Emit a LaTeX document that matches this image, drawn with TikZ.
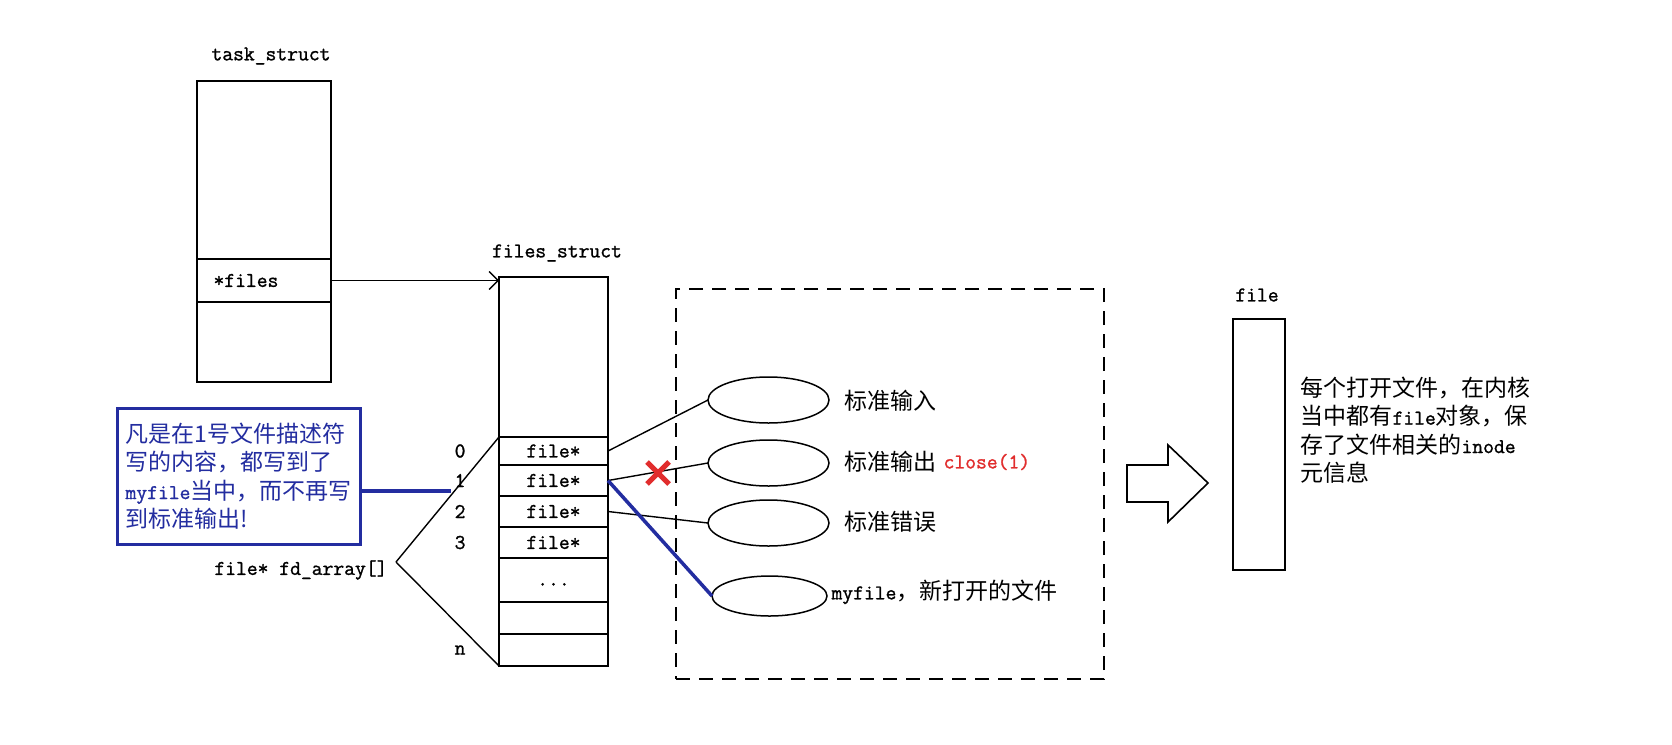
\documentclass[tikz,border=0pt]{standalone}
\usepackage{fontspec}
\setmonofont{lmmono12-regular.otf}[FakeBold=1.2]
\newfontfamily\cjk{Noto Sans CJK SC}
\usepackage{tikz}
\usetikzlibrary{positioning,shapes.geometric,arrows.meta}

\definecolor{noteblue}{RGB}{35,45,160}
\definecolor{closered}{RGB}{225,45,45}

\newcommand\monotxt[1]{{\fontsize{21}{25}\selectfont\ttfamily #1}}

\tikzset{
	mono/.style={font=\fontsize{21}{25}\selectfont\ttfamily},
	hanzi/.style={font=\cjk\fontsize{23}{28.5}\selectfont},
	cell/.style={draw, line width=1.7pt, inner sep=0pt, outer sep=0pt, minimum width=109pt, mono},
	tcell/.style={draw, line width=1.7pt, inner sep=0pt, outer sep=0pt, minimum width=134pt},
	fdobj/.style={draw, ellipse, line width=1.5pt, inner sep=0pt, outer sep=0pt},
	link/.style={line width=1.4pt},
	noteline/.style={noteblue, line width=3.5pt},
}

\begin{document}
\begin{tikzpicture}[x=1pt,y=-1pt]
	\useasboundingbox[fill=white] (0,0) rectangle (1672,744);
	
	% task_struct
	\node[mono] (tname) at (271,56) {task\_struct};
	\node[tcell, minimum height=178pt] (ttop) at (264,170) {};
	\node[tcell, minimum height=43pt, below=0pt of ttop] (tfiles) {};
	\node[tcell, minimum height=80pt, below=0pt of tfiles] (tbot) {};
	\node[mono, anchor=west] (tfilestxt) at ([xshift=13pt]tfiles.west) {*files};
	
	% files_struct
	\node[mono] (fname) at (557,253) {files\_struct};
	\node[cell, minimum height=160pt] (ftop) at (553.5,357) {};
	\node[cell, minimum height=28pt, below=0pt of ftop] (r0) {file*};
	\node[cell, minimum height=31pt, below=0pt of r0] (r1) {file*};
	\node[cell, minimum height=31pt, below=0pt of r1] (r2) {file*};
	\node[cell, minimum height=31pt, below=0pt of r2] (r3) {file*};
	\node[cell, minimum height=44pt, below=0pt of r3] (r4) {\raisebox{-11pt}{...}};
	\node[cell, minimum height=32pt, below=0pt of r4] (r5) {};
	\node[cell, minimum height=32pt, below=0pt of r5] (r6) {};
	
	\foreach \r/\n in {r0/0, r1/1, r2/2, r3/3, r6/n}
	\node[mono, left=30pt of \r.west] (idx\n) {\n};
	
	\draw[link, -{Straight Barb[length=9pt,width=18pt]}] (tfiles.east) -- (tfiles.east -| ftop.west);
	
	% fd_array
	\node[mono, anchor=east] (fdarr) at (391,570) {file* fd\_array[]};
	\coordinate (apex) at (396,562);
	\draw[link] (apex) -- (r0.north west);
	\draw[link] (apex) -- (r6.south west);
	
	% note
	\node[draw=noteblue, line width=3pt, text=noteblue, hanzi, align=left, inner sep=0pt, outer sep=0pt,
	minimum width=243pt, minimum height=136pt] (note) at (238.5,476)
	{凡是在1号文件描述符\\写的内容，都写到了\\\monotxt{myfile}当中，而不再写\\到标准输出!};
	\draw[noteline] ([yshift=-15pt]note.east) -- ([yshift=-15pt]note.east -| idx1.west);
	
	% opened files
	\node[draw, dash pattern=on 14pt off 9pt, line width=1.6pt, outer sep=0pt,
	minimum width=428pt, minimum height=390pt] (grp) at (890,484) {};
	
	\node[fdobj, minimum width=121pt, minimum height=46pt] (e0) at (768.5,400) {};
	\node[fdobj, minimum width=121pt, minimum height=46pt] (e1) at (768.5,463) {};
	\node[fdobj, minimum width=121pt, minimum height=46pt] (e2) at (768.5,523) {};
	\node[fdobj, minimum width=115pt, minimum height=40pt] (e3) at (769.5,596) {};
	
	\node[hanzi, anchor=west] (l0) at (841,401) {标准输入};
	\node[hanzi, anchor=west] (l1) at (841,462) {标准输出};
	\node[mono, text=closered, right=0pt of l1] (cls) {close(1)};
	\node[hanzi, anchor=west] (l2) at (841,522) {标准错误};
	\node[hanzi, anchor=west] (l3) at (828,592) {\monotxt{myfile}，新打开的文件};
	
	\draw[link] (r0.east) -- (e0.west);
	\draw[link] (r1.east) -- (e1.west);
	\draw[link] (r2.east) -- (e2.west);
	\draw[noteline] (r1.east) -- (e3.west);
	
	% closed
	\coordinate (xmark) at (658,473);
	\draw[closered, line width=5pt] ([shift={(-11,-11)}]xmark) -- ([shift={(11,11)}]xmark);
	\draw[closered, line width=5pt] ([shift={(11,-11)}]xmark) -- ([shift={(-11,11)}]xmark);
	
	% big arrow
	\draw[line width=1.6pt] (1127,465) -- (1168,465) -- (1168,445) -- (1208,483)
	-- (1168,522) -- (1168,502) -- (1127,502) -- cycle;
	
	% file
	\node[mono] (fobjname) at (1257,295) {file};
	\node[draw, line width=1.7pt, inner sep=0pt, minimum width=52pt, minimum height=251pt] (fobj) at (1259,444.5) {};
	\node[hanzi, anchor=west, align=left] (desc) at (1297,430)
	{每个打开文件，在内核\\当中都有\monotxt{file}对象，保\\存了文件相关的\monotxt{inode}\\元信息};
\end{tikzpicture}
\end{document}
